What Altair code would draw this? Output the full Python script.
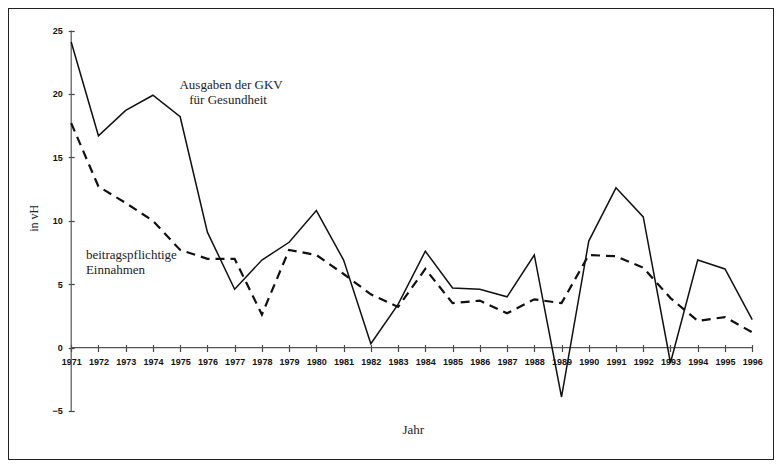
import altair as alt
import pandas as pd

years = list(range(1971, 1997))
ausgaben = [24.1, 16.7, 18.7, 19.9, 18.2, 9.1, 4.6, 6.9, 8.3, 10.8, 6.9, 0.3, 3.4,
            7.6, 4.7, 4.6, 4.0, 7.3, -3.9, 8.4, 12.6, 10.3, -1.2, 6.9, 6.2, 2.2]
einnahmen = [17.7, 12.7, 11.4, 10.0, 7.7, 7.0, 7.0, 2.6, 7.7, 7.3, 5.8, 4.2, 3.2,
             6.2, 3.5, 3.7, 2.7, 3.8, 3.5, 7.3, 7.2, 6.3, 3.9, 2.1, 2.4, 1.2]
y_ticks = [-5, 0, 5, 10, 15, 20, 25]

ann_text = ["Ausgaben der GKV", "für Gesundheit", "beitragspflichtige", "Einnahmen"]
ann_x = [1976.87, 1976.76, 1971.54, 1971.54]
ann_y = [20.67, 19.51, 7.29, 6.13]
ann_align = ["center", "center", "left", "left"]

W, H = 766, 452
XMIN, XMAX = 1968.68, 1996.80
YMIN, YMAX = -8.87, 26.78

def xpix(v):
    return (v - XMIN) / (XMAX - XMIN) * W

def ypix(v):
    return (YMAX - v) / (YMAX - YMIN) * H

df = pd.DataFrame({"year": years, "ausgaben": ausgaben, "einnahmen": einnahmen})
ann = pd.DataFrame({"text": ann_text, "year": ann_x, "value": ann_y, "align": ann_align})
yaxis_df = pd.DataFrame({"year": [years[0]], "value": [y_ticks[0]], "value2": [y_ticks[-1]]})
xaxis_df = pd.DataFrame({"year": [years[0]], "year2": [years[-1]], "value": [0]})

xscale = alt.Scale(domain=[XMIN, XMAX], nice=False, zero=False)
yscale = alt.Scale(domain=[YMIN, YMAX], nice=False, zero=False)

x_base = xpix(years[0])
y_base = ypix(0)

xaxis = alt.Axis(values=years, format="d", orient="bottom",
                 offset=-(H - y_base + 3), domain=False, grid=False,
                 tickSize=7, tickColor="#444", tickWidth=1.2,
                 labelFont="Liberation Sans", labelFontWeight="bold", labelFontSize=9,
                 labelColor="#111", labelPadding=6, labelOverlap=False, labelFlush=False,
                 title="Jahr", titleFont="Liberation Serif", titleFontWeight="normal",
                 titleFontSize=13, titleColor="#222",
                 titleX=(415 - 5) * W / 776, titleY=(436 - 6) * H / 461 - (y_base - 3),
                 titleAlign="center", titleBaseline="middle")
yaxis = alt.Axis(values=y_ticks, orient="left", offset=-(x_base + 3), domain=False, grid=False,
                 tickSize=6, tickColor="#444", tickWidth=1.2,
                 labelFont="Liberation Sans", labelFontWeight="bold", labelFontSize=9,
                 labelColor="#111", labelPadding=6, labelOverlap=False, labelFlush=False,
                 title="in vH", titleFont="Liberation Serif", titleFontWeight="normal",
                 titleFontSize=12, titleColor="#222", titleAngle=-90,
                 titleX=(31 - 5) * W / 776 - (x_base + 3), titleY=(220 - 6) * H / 461,
                 titleAlign="center", titleBaseline="middle")

X = alt.X("year:Q", scale=xscale, axis=xaxis)
Y = alt.Y("value:Q", scale=yscale, axis=yaxis)

base = alt.Chart(df)

solid = base.mark_line(color="#111", strokeWidth=1.5).encode(
    x=X, y=alt.Y("ausgaben:Q", scale=yscale, axis=yaxis))
dashed = base.mark_line(color="#111", strokeWidth=2.2, strokeDash=[9, 6]).encode(
    x=X, y=alt.Y("einnahmen:Q", scale=yscale, axis=yaxis))

y_line = alt.Chart(yaxis_df).mark_rule(color="#555", strokeWidth=1.2).encode(
    x=X, y=Y, y2="value2:Q")
x_line = alt.Chart(xaxis_df).mark_rule(color="#555", strokeWidth=1.2).encode(
    x=X, x2="year2:Q", y=Y)

text_c = alt.Chart(ann[ann["align"] == "center"]).mark_text(
    font="Liberation Serif", fontSize=13, color="#222", align="center", baseline="middle"
).encode(x=X, y=Y, text="text:N")
text_l = alt.Chart(ann[ann["align"] == "left"]).mark_text(
    font="Liberation Serif", fontSize=13, color="#222", align="left", baseline="middle"
).encode(x=X, y=Y, text="text:N")

chart = alt.layer(y_line, x_line, dashed, solid, text_c, text_l).properties(
    width=W, height=H, padding=0, background="white"
).configure_view(stroke="#222", strokeWidth=2)

chart.save("out.html", embed_options={"renderer": "svg", "actions": False})
